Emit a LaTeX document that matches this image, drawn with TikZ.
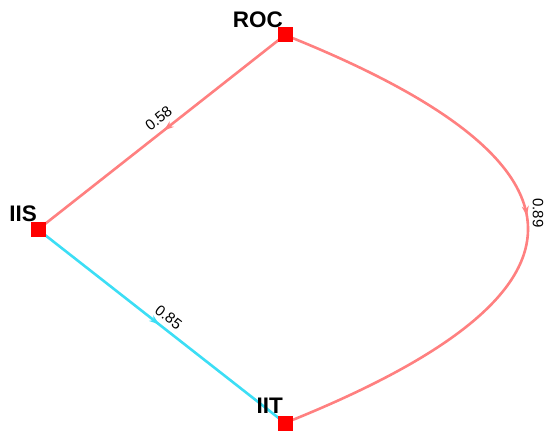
\documentclass[tikz,border=0pt]{standalone}
\usepackage{fontspec}
\setmainfont{Liberation Sans}
\usetikzlibrary{arrows.meta,decorations.markings,backgrounds}
\definecolor{vred}{RGB}{255,0,0}
\definecolor{esalmon}{RGB}{255,128,128}
\definecolor{ecyan}{RGB}{60,222,245}
\begin{document}
\begin{tikzpicture}[x=1pt,y=-1pt,
  vert/.style={rectangle,fill=vred,draw=none,minimum size=15pt,inner sep=0pt},
  vlabel/.style={font=\fontsize{22.5}{22.5}\selectfont\bfseries,inner sep=0pt,anchor=south east},
  elabel/.style={font=\fontsize{15}{15}\selectfont,inner sep=0pt},
  edgeline/.style={line width=2.6pt},
  midarrow/.style={postaction=decorate,decoration={markings,
     mark=at position #1 with {\arrow{Stealth[length=10pt,width=7pt]}}}}]
\useasboundingbox (0,0) rectangle (546,433);
\node[vert] (ROC) at (285,35) {};
\node[vert] (IIS) at (38,229.5) {};
\node[vert] (IIT) at (285,423) {};
\node[vlabel] (ROCl) at ([xshift=-2pt,yshift=7pt]ROC.center) {ROC};
\node[vlabel] (IISl) at ([xshift=-1pt,yshift=7.5pt]IIS.center) {IIS};
\node[vlabel] (IITl) at ([xshift=-2pt,yshift=9pt]IIT.center) {IIT};
\begin{scope}[on background layer]
\draw[edgeline,esalmon,midarrow=0.49] (ROC.center) -- node[elabel,black,sloped,above=6pt,pos=0.48] (l58) {0.58} (IIS.center);
\draw[edgeline,ecyan,midarrow=0.49] (IIS.center) -- node[elabel,black,sloped,above=5pt,pos=0.5] (l85) {0.85} (IIT.center);
\draw[edgeline,esalmon,midarrow=0.48] (ROC.center) .. controls (609,164.3) and (609,293.7) .. (IIT.center);
\end{scope}
\node[elabel,rotate=-90] (l89) at (538,213) {0.89};
\end{tikzpicture}
\end{document}
